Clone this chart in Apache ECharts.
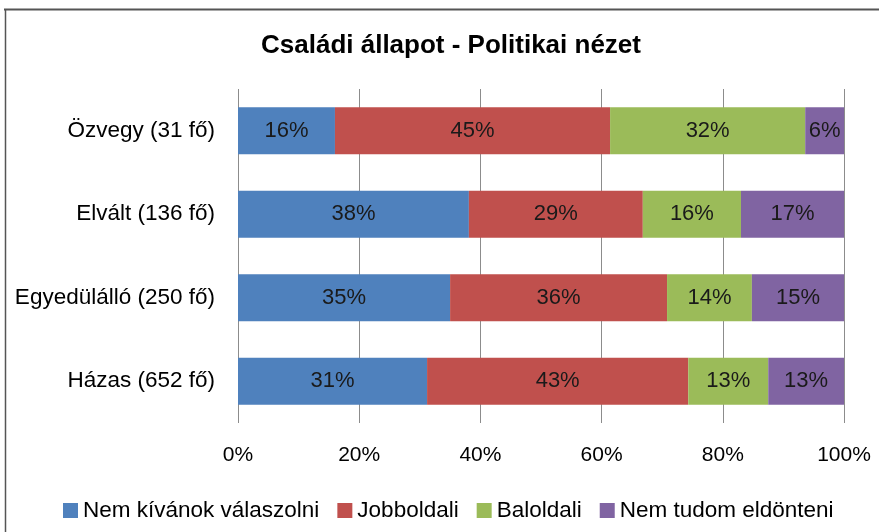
<!DOCTYPE html>
<html><head><meta charset="utf-8">
<script src="https://cdn.jsdelivr.net/npm/echarts@6/dist/echarts.min.js"></script>
<style>html,body{margin:0;padding:0;background:#fff}#c{width:879px;height:532px}</style>
</head><body><div id="c"></div>
<script>
const categories = ['Házas (652 fő)', 'Egyedülálló (250 fő)', 'Elvált (136 fő)', 'Özvegy (31 fő)'];
const seriesNames = ['Nem kívánok válaszolni', 'Jobboldali', 'Baloldali', 'Nem tudom eldönteni'];
const nemKivanok = [31.2, 35.0, 38.1, 16.0];
const jobboldali = [43.1, 35.8, 28.7, 45.4];
const baloldali = [13.2, 14.0, 16.2, 32.2];
const nemTudom = [12.5, 15.2, 17.0, 6.4];
const colors = ['#4F81BD', '#C0504D', '#9BBB59', '#8064A2'];
const FONT = '"Liberation Sans", sans-serif';

const chart = echarts.init(document.getElementById('c'));
const data = [nemKivanok, jobboldali, baloldali, nemTudom];
chart.setOption({
  animation: false,
  title: { text: 'Családi állapot - Politikai nézet', left: 256, top: 28,
    textStyle: { fontFamily: FONT, fontSize: 26, fontWeight: 'bold', color: '#000' } },
  grid: { left: 238, right: 35, top: 89, bottom: 109 },
  xAxis: { type: 'value', min: 0, max: 100, interval: 20,
    axisLine: { show: false }, axisTick: { show: false },
    splitLine: { lineStyle: { color: '#8c8c8c', width: 1 } },
    axisLabel: { formatter: '{value}%', fontFamily: FONT, fontSize: 21, color: '#000', margin: 22 } },
  yAxis: { type: 'category', data: categories,
    axisLine: { show: false }, axisTick: { show: false },
    axisLabel: { fontFamily: FONT, fontSize: 22.5, color: '#000', margin: 23 } },
  legend: { top: 494, left: 58, itemWidth: 15, itemHeight: 15, itemGap: 18,
    icon: 'rect', textStyle: { fontFamily: FONT, fontSize: 22.5, color: '#000' } },
  series: seriesNames.map((n, i) => ({
    name: n, type: 'bar', stack: 'all', data: data[i], barWidth: '56%',
    itemStyle: { color: colors[i] },
    label: { show: true, position: 'inside', formatter: p => Math.round(p.value) + '%',
      fontFamily: FONT, fontSize: 22, color: '#1a1a1a' }
  })),
  graphic: [
    { type: 'line', shape: { x1: 4, y1: 9.5, x2: 879, y2: 9.5 }, style: { stroke: '#555', lineWidth: 2 } },
    { type: 'line', shape: { x1: 5.5, y1: 9, x2: 5.5, y2: 532 }, style: { stroke: '#555', lineWidth: 1.5 } }
  ]
});
</script></body></html>
